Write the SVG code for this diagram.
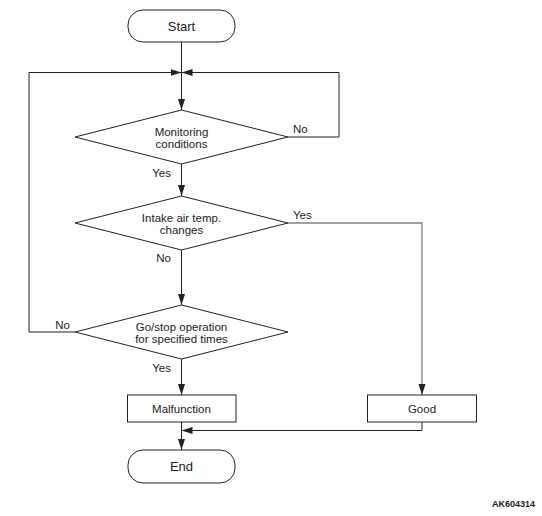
<svg xmlns="http://www.w3.org/2000/svg" width="542" height="516" viewBox="0 0 542 516">
<style>
  .shape { fill: #fff; stroke: #222; stroke-width: 1; }
  .line { fill: none; stroke: #222; stroke-width: 1; }
  .gray { fill: none; stroke: #808080; stroke-width: 1.3; }
  text { font-family: "Liberation Sans", Arial, sans-serif; fill: #222; }
  .t { font-size: 11.5px; text-anchor: middle; }
  .lbl { font-size: 11.5px; }
  .term { font-size: 13px; text-anchor: middle; }
  .code { font-size: 9px; font-weight: bold; text-anchor: end; }
</style>
<defs>
  <marker id="arr" markerUnits="userSpaceOnUse" markerWidth="12" markerHeight="8" refX="11" refY="3.5" orient="auto">
    <path d="M0,0 L11,3.5 L0,7 z" fill="#222"/>
  </marker>
</defs>
<rect width="542" height="516" fill="#fff"/>
<g id="connectors">
  <path class="line" d="M181.5,42 V110" marker-end="url(#arr)"/>
  <path class="line" d="M75,332 H29 V72.5 H181.5" marker-end="url(#arr)"/>
  <path class="line" d="M288,137 H339 V72.5 H181.5" marker-end="url(#arr)"/>
  <path class="line" d="M181.5,164 V196" marker-end="url(#arr)"/>
  <path class="line" d="M181.5,250 V305" marker-end="url(#arr)"/>
  <path class="gray" d="M288,223 H422 V395" marker-end="url(#arr)"/>
  <path class="line" d="M181.5,359 V395" marker-end="url(#arr)"/>
  <path class="line" d="M181.5,422 V450" marker-end="url(#arr)"/>
  <path class="line" d="M422,422 V430.5 H181.5" marker-end="url(#arr)"/>
  <text class="lbl" x="293" y="133">No</text>
  <text class="lbl" x="171" y="176.5" text-anchor="end">Yes</text>
  <text class="lbl" x="293" y="219">Yes</text>
  <text class="lbl" x="171" y="262" text-anchor="end">No</text>
  <text class="lbl" x="70" y="329" text-anchor="end">No</text>
  <text class="lbl" x="171" y="371.5" text-anchor="end">Yes</text>
</g>
<g id="start">
  <rect class="shape" x="128" y="10" width="107" height="32" rx="15" ry="15"/>
  <text class="term" x="181.5" y="31">Start</text>
</g>
<g id="monitoring">
  <polygon class="shape" points="181.5,110 288,137 181.5,164 75,137"/>
  <text class="t" x="181.5" y="135.5">Monitoring</text>
  <text class="t" x="181.5" y="148">conditions</text>
</g>
<g id="intake">
  <polygon class="shape" points="181.5,196 288,223 181.5,250 75,223"/>
  <text class="t" x="181.5" y="221.5">Intake air temp.</text>
  <text class="t" x="181.5" y="234">changes</text>
</g>
<g id="gostop">
  <polygon class="shape" points="181.5,305 288,332 181.5,359 75,332"/>
  <text class="t" x="181.5" y="330.5">Go/stop operation</text>
  <text class="t" x="181.5" y="343">for specified times</text>
</g>
<g id="malfunction">
  <rect class="shape" x="127.5" y="395" width="108.5" height="27"/>
  <text class="t" x="181.5" y="412.5">Malfunction</text>
</g>
<g id="good">
  <rect class="shape" x="367.5" y="395" width="109" height="27"/>
  <text class="t" x="422" y="412.5">Good</text>
</g>
<g id="end">
  <rect class="shape" x="128" y="450" width="107" height="33" rx="15" ry="15"/>
  <text class="term" x="181.5" y="471">End</text>
</g>
<text class="code" x="535" y="506.5">AK604314</text>
</svg>
